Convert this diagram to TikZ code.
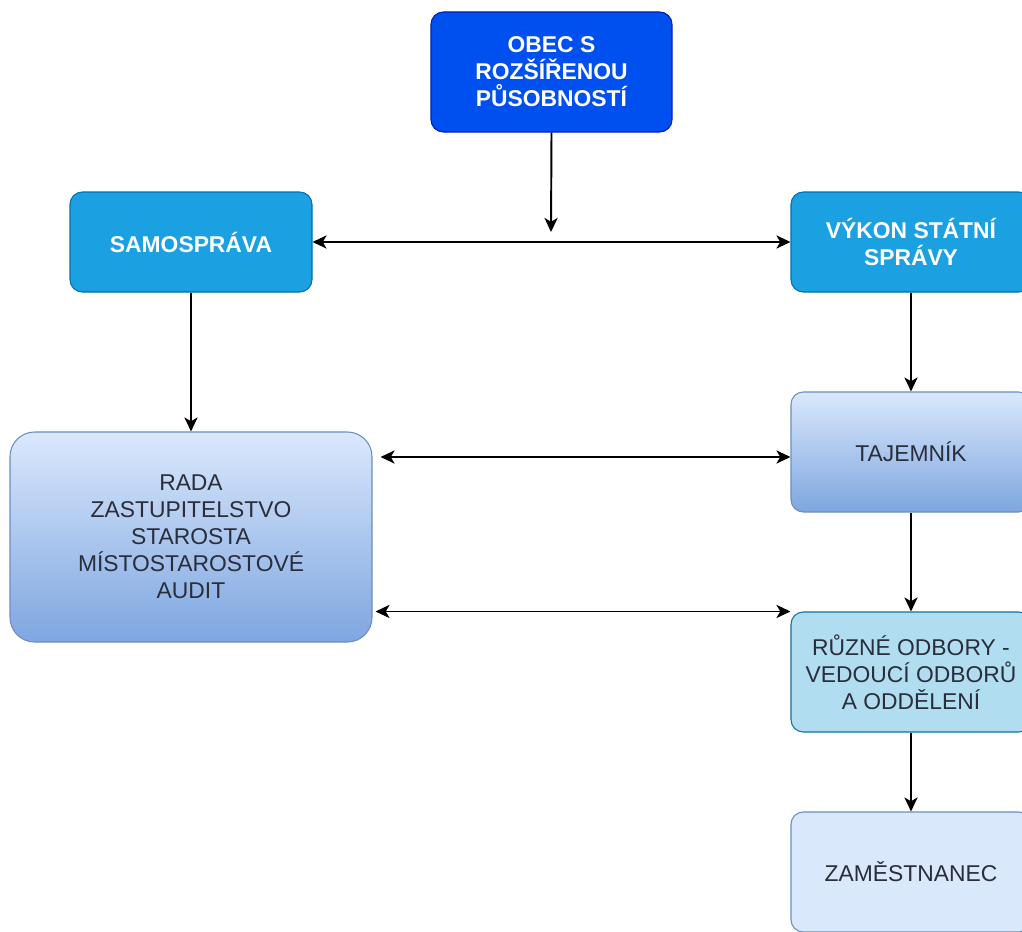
\documentclass[tikz,border=0pt]{standalone}
\usepackage{fontspec}
\setmainfont{Liberation Sans}
\usetikzlibrary{arrows.meta}
\definecolor{obecblue}{HTML}{0050EF}
\definecolor{obecline}{HTML}{001DBC}
\definecolor{midblue}{HTML}{1BA1E2}
\definecolor{midline}{HTML}{006EAF}
\definecolor{paleblue}{HTML}{DAE8FC}
\definecolor{deepblue}{HTML}{7EA6E0}
\definecolor{paleline}{HTML}{6C8EBF}
\definecolor{cyanfill}{HTML}{B1DDF0}
\definecolor{cyanline}{HTML}{10739E}
\definecolor{darktext}{HTML}{2A2D3A}
\tikzset{
  box/.style={rounded corners=7pt, align=center, inner sep=2pt, line width=0.6pt,
    font=\fontsize{13}{15.3}\selectfont},
  headbox/.style={box, fill=obecblue, draw=obecline, text=white, font=\bfseries\fontsize{13}{15.3}\selectfont},
  partbox/.style={box, fill=midblue, draw=midline, text=white, font=\bfseries\fontsize{13}{15.3}\selectfont},
  shadebox/.style={box, draw=paleline, top color=paleblue, bottom color=deepblue, text=darktext},
  oddbox/.style={box, fill=cyanfill, draw=cyanline, text=darktext},
  plainbox/.style={box, fill=paleblue, draw=paleline, text=darktext},
  link/.style={line width=1.1pt, -{Stealth[length=8pt,width=7.5pt,inset=2.2pt]}},
  twoway/.style={line width=1.1pt, {Stealth[length=8pt,width=7.5pt,inset=2.2pt]}-{Stealth[length=8pt,width=7.5pt,inset=2.2pt]}}
}
\begin{document}
\begin{tikzpicture}
\useasboundingbox (0,0) rectangle (20.44,-18.62);
\clip (0,0) rectangle (20.44,-18.62);
\fill[white] (0,0) rectangle (20.44,-18.62);

% top of the chart
\node[headbox, minimum width=4.82cm, minimum height=2.4cm] (obec) at (11.03,-1.44)
  {OBEC S\\ROZŠÍŘENOU\\PŮSOBNOSTÍ};

% the two branches
\node[partbox, minimum width=4.84cm, minimum height=2cm] (samo) at (3.82,-4.84) {SAMOSPRÁVA};
\node[partbox, minimum width=4.8cm, minimum height=2cm] (vykon) at (18.22,-4.84) {VÝKON STÁTNÍ\\SPRÁVY};

\node[shadebox, rounded corners=14pt, minimum width=7.24cm, minimum height=4.2cm] (rada) at (3.82,-10.74)
  {RADA\\ZASTUPITELSTVO\\STAROSTA\\MÍSTOSTAROSTOVÉ\\AUDIT};
\node[shadebox, minimum width=4.8cm, minimum height=2.4cm] (taj) at (18.22,-9.04) {TAJEMNÍK};
\node[oddbox, minimum width=4.8cm, minimum height=2.4cm] (odbory) at (18.22,-13.44)
  {RŮZNÉ ODBORY -\\VEDOUCÍ ODBORŮ\\A ODDĚLENÍ};
\node[plainbox, minimum width=4.8cm, minimum height=2.4cm] (zam) at (18.22,-17.44) {ZAMĚSTNANEC};

\coordinate (join) at (11.02,-4.64);

% connectors
\draw[link] (obec.south) -- (join);
\draw[twoway] (samo.east) -- (vykon.west);
\draw[link] (samo.south) -- (rada.north);
\draw[link] (vykon.south) -- (taj.north);
\draw[twoway, shorten <=0.16cm] ([yshift=-0.1cm]rada.east |- taj.west) -- ([yshift=-0.1cm]taj.west);
\draw[twoway, shorten <=0.06cm] (rada.east |- odbory.north west) -- (odbory.north west);
\draw[link] (taj.south) -- (odbory.north);
\draw[link] (odbory.south) -- (zam.north);
\end{tikzpicture}
\end{document}
